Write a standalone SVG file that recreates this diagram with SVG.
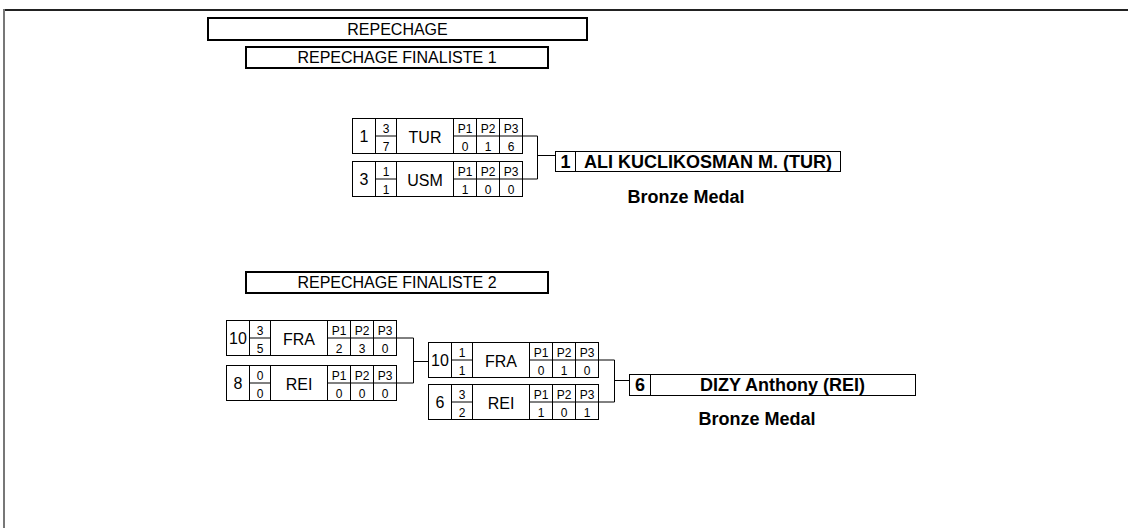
<svg xmlns="http://www.w3.org/2000/svg" width="1128" height="528" viewBox="0 0 1128 528">
<style>
.bg{fill:#fff}
.cell{fill:#fff;stroke:#000;stroke-width:1}
.ln{stroke:#000;stroke-width:1;fill:none}
.hdr{fill:#fff;stroke:#000;stroke-width:2}
.t{font-family:"Liberation Sans",Arial,sans-serif;fill:#000;text-anchor:middle}
.h16{font-size:16px}
.s12{font-size:12px}
.b18{font-size:18px;font-weight:bold}
.conn{stroke:#000;stroke-width:1;fill:none}
</style>
<defs>
<g id="row">
<rect class="cell" x="0" y="0" width="170" height="35"/>
<path class="ln" d="M23 0V35M44 0V35M101 0V35M124 0V35M147 0V35M23 17.5H44M101 17.5H170"/>
</g>
</defs>
<rect class="bg" x="0" y="0" width="1128" height="528"/>
<g id="frame">
<line x1="4" y1="10" x2="1128" y2="10" stroke="#222" stroke-width="2"/>
<line x1="4" y1="9" x2="4" y2="528" stroke="#777" stroke-width="2"/>
</g>
<g id="hdr-repechage">
<rect class="hdr" x="208" y="18" width="379" height="22"/>
<text class="t h16" x="397.5" y="35">REPECHAGE</text>
</g>
<g id="hdr-finaliste1">
<rect class="hdr" x="246" y="47" width="302" height="21"/>
<text class="t h16" x="397" y="63">REPECHAGE FINALISTE 1</text>
</g>
<g id="m1-tur" transform="translate(352.5,118.5)">
<use href="#row"/>
<text class="t h16" x="11.5" y="23">1</text>
<text class="t s12" x="33.5" y="14">3</text><text class="t s12" x="33.5" y="32">7</text>
<text class="t h16" x="72.5" y="24">TUR</text>
<text class="t s12" x="112.5" y="14">P1</text><text class="t s12" x="135.5" y="14">P2</text><text class="t s12" x="158.5" y="14">P3</text>
<text class="t s12" x="112.5" y="32">0</text><text class="t s12" x="135.5" y="32">1</text><text class="t s12" x="158.5" y="32">6</text>
</g>
<g id="m1-usm" transform="translate(352.5,161.5)">
<use href="#row"/>
<text class="t h16" x="11.5" y="23">3</text>
<text class="t s12" x="33.5" y="14">1</text><text class="t s12" x="33.5" y="32">1</text>
<text class="t h16" x="72.5" y="24">USM</text>
<text class="t s12" x="112.5" y="14">P1</text><text class="t s12" x="135.5" y="14">P2</text><text class="t s12" x="158.5" y="14">P3</text>
<text class="t s12" x="112.5" y="32">1</text><text class="t s12" x="135.5" y="32">0</text><text class="t s12" x="158.5" y="32">0</text>
</g>
<g id="winner1">
<rect class="cell" x="555.5" y="151.5" width="285" height="20"/>
<line class="ln" x1="575.5" y1="151.5" x2="575.5" y2="171.5"/>
<text class="t b18" x="565.5" y="168">1</text>
<text class="t b18" x="708" y="168">ALI KUCLIKOSMAN M. (TUR)</text>
</g>
<g id="bronze1">
<text class="t b18" x="686" y="203">Bronze Medal</text>
</g>
<g id="hdr-finaliste2">
<rect class="hdr" x="246" y="272" width="302" height="21"/>
<text class="t h16" x="397" y="288">REPECHAGE FINALISTE 2</text>
</g>
<g id="m2-fra" transform="translate(226.5,320.5)">
<use href="#row"/>
<text class="t h16" x="11.5" y="23">10</text>
<text class="t s12" x="33.5" y="14">3</text><text class="t s12" x="33.5" y="32">5</text>
<text class="t h16" x="72.5" y="24">FRA</text>
<text class="t s12" x="112.5" y="14">P1</text><text class="t s12" x="135.5" y="14">P2</text><text class="t s12" x="158.5" y="14">P3</text>
<text class="t s12" x="112.5" y="32">2</text><text class="t s12" x="135.5" y="32">3</text><text class="t s12" x="158.5" y="32">0</text>
</g>
<g id="m2-rei" transform="translate(226.5,365.5)">
<use href="#row"/>
<text class="t h16" x="11.5" y="23">8</text>
<text class="t s12" x="33.5" y="14">0</text><text class="t s12" x="33.5" y="32">0</text>
<text class="t h16" x="72.5" y="24">REI</text>
<text class="t s12" x="112.5" y="14">P1</text><text class="t s12" x="135.5" y="14">P2</text><text class="t s12" x="158.5" y="14">P3</text>
<text class="t s12" x="112.5" y="32">0</text><text class="t s12" x="135.5" y="32">0</text><text class="t s12" x="158.5" y="32">0</text>
</g>
<g id="m3-fra" transform="translate(428.5,342.5)">
<use href="#row"/>
<text class="t h16" x="11.5" y="23">10</text>
<text class="t s12" x="33.5" y="14">1</text><text class="t s12" x="33.5" y="32">1</text>
<text class="t h16" x="72.5" y="24">FRA</text>
<text class="t s12" x="112.5" y="14">P1</text><text class="t s12" x="135.5" y="14">P2</text><text class="t s12" x="158.5" y="14">P3</text>
<text class="t s12" x="112.5" y="32">0</text><text class="t s12" x="135.5" y="32">1</text><text class="t s12" x="158.5" y="32">0</text>
</g>
<g id="m3-rei" transform="translate(428.5,384.5)">
<use href="#row"/>
<text class="t h16" x="11.5" y="23">6</text>
<text class="t s12" x="33.5" y="14">3</text><text class="t s12" x="33.5" y="32">2</text>
<text class="t h16" x="72.5" y="24">REI</text>
<text class="t s12" x="112.5" y="14">P1</text><text class="t s12" x="135.5" y="14">P2</text><text class="t s12" x="158.5" y="14">P3</text>
<text class="t s12" x="112.5" y="32">1</text><text class="t s12" x="135.5" y="32">0</text><text class="t s12" x="158.5" y="32">1</text>
</g>
<g id="winner2">
<rect class="cell" x="629.5" y="374.5" width="286" height="21"/>
<line class="ln" x1="650.5" y1="374.5" x2="650.5" y2="395.5"/>
<text class="t b18" x="640" y="391">6</text>
<text class="t b18" x="782.5" y="391">DIZY Anthony (REI)</text>
</g>
<g id="bronze2">
<text class="t b18" x="757" y="425">Bronze Medal</text>
</g>
<g id="connectors">
<path class="conn" d="M522.5 136H537.5V179H522.5M537.5 155.5H555.5"/>
<path class="conn" d="M396.5 338H413.5V383H396.5M413.5 361.5H428.5"/>
<path class="conn" d="M598.5 360H614.5V402H598.5M614.5 380.5H629.5"/>
</g>
</svg>
